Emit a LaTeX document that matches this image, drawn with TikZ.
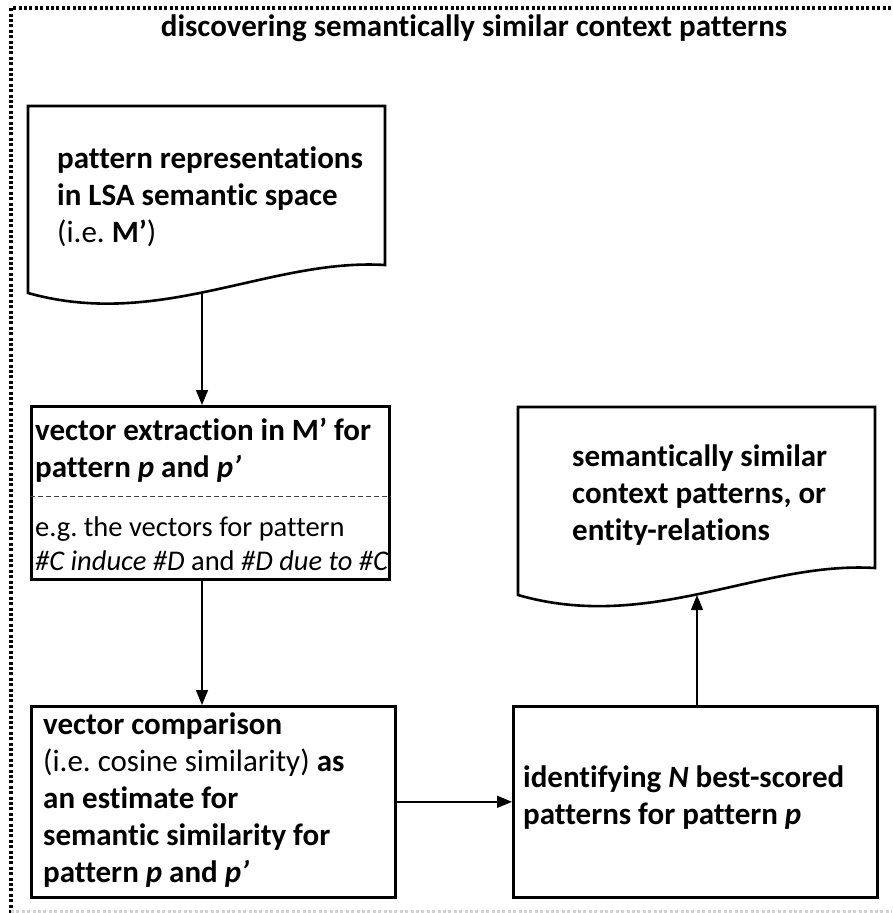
\documentclass[tikz,border=0pt]{standalone}
\usepackage{fontspec}
\setmainfont[Ligatures=NoCommon]{Carlito}
\usetikzlibrary{arrows.meta,positioning}
\frenchspacing

\tikzset{
  txt/.style={font=\fontsize{31}{37}\selectfont\bfseries, align=left, inner sep=0pt, anchor=west},
  box/.style={draw, line width=2.6pt, anchor=north west, inner sep=0pt},
  doc/.style={draw, line width=2.6pt, line join=miter},
  arr/.style={-{Triangle[length=15pt,width=12pt]}, line width=1.4pt},
  frame/.style={line width=3.2pt, dash pattern=on 3pt off 2.4pt}
}

\begin{document}
\begin{tikzpicture}[x=1pt, y=-1pt]
\useasboundingbox (0,0) rectangle (892,913);
% Frame
\draw[frame] (11,913) -- (11,8) -- (892,8);
\draw[frame, gray!35] (11,912) -- (892,912);
\node[txt, anchor=center] (title) at (474,28) {discovering semantically similar context patterns};
% Documents
\draw[doc] (28,106) -- (385,106) -- (385,265) .. controls (270,258) and (160,330) .. (28,293) -- cycle;
\draw[doc] (518,407) -- (875,407) -- (875,568) .. controls (760,561) and (650,633) .. (518,595) -- cycle;
\coordinate (repout) at (202,292);
\coordinate (simout) at (697,595);
\node[txt] (rep) at (57,197) {pattern representations\\in LSA semantic space\\{\mdseries (i.e. }M’{\mdseries )}};
\node[txt] (sim) at (572,495) {semantically similar\\context patterns, or\\entity-relations};
% Boxes
\node[box, minimum width=358pt, minimum height=173pt] (extract) at (30,405) {};
\node[txt] (extracthead) at (35,450) {vector extraction in M’ for\\pattern \textit{p} and \textit{p’}};
\draw[line width=1pt, dash pattern=on 5pt off 3pt, black!75] (extract.west |- 0,496) -- (extract.east |- 0,496);
\node[txt, font=\fontsize{28.5}{34}\selectfont] (extractnote) at (35,544) {e.g. the vectors for pattern\\\textit{\#C induce \#D} and \textit{\#D due to \#C}};
\node[box, minimum width=364pt, minimum height=191pt] (compare) at (30,705) {};
\node[txt] (comparetext) at (43,800) {vector comparison\\{\mdseries (i.e. cosine similarity)} as\\an estimate for\\semantic similarity for\\pattern \textit{p} and \textit{p’}};
\node[box, minimum width=364pt, minimum height=191pt] (identify) at (512,705) {};
\node[txt] (identifytext) at (523,798) {identifying \textit{N} best-scored\\patterns for pattern \textit{p}};
% Arrows
\draw[arr] (repout) -- (repout |- extract.north);
\draw[arr] (extract.south -| repout) -- (compare.north -| repout);
\draw[arr] (compare.east) -- (identify.west);
\draw[arr] (identify.north -| simout) -- (simout);
\end{tikzpicture}
\end{document}
